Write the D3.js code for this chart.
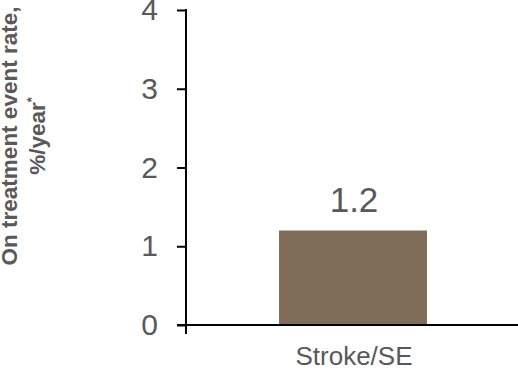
<!DOCTYPE html>
<html>
<head>
<meta charset="utf-8">
<script src="https://cdn.jsdelivr.net/npm/d3@7"></script>
<style>
  html, body { margin: 0; padding: 0; background: #fff; }
  svg { display: block; font-family: "Liberation Sans", Arial, sans-serif; }
</style>
</head>
<body>
<svg id="chart" width="518" height="369"></svg>
<script>
// Event rate data
const categories = ["Stroke/SE"];
const values = [1.2];
const valueLabels = ["1.2"];
const yTicks = [0, 1, 2, 3, 4];

const svg = d3.select("#chart");
const axisColor = "#000";
const textColor = "#595959";
const barColor = "#7f6d5a";

const y = d3.scaleLinear().domain([0, 4]).range([325, 10]);
const x = d3.scaleBand().domain(categories).range([186, 520]).padding(0.386);

// Bars
svg.selectAll("rect.bar")
  .data(values)
  .enter().append("rect")
  .attr("class", "bar")
  .attr("x", (d, i) => x(categories[i]))
  .attr("width", x.bandwidth())
  .attr("y", d => y(d))
  .attr("height", d => y(0) - y(d))
  .attr("fill", barColor);

// Value labels
svg.selectAll("text.val")
  .data(values)
  .enter().append("text")
  .attr("class", "val")
  .attr("x", (d, i) => x(categories[i]) + x.bandwidth() / 2 + 1)
  .attr("y", d => y(d) - 19)
  .attr("text-anchor", "middle")
  .attr("font-size", 35)
  .attr("fill", textColor)
  .text((d, i) => valueLabels[i]);

// Y axis
const yAxis = d3.axisLeft(y).tickValues(yTicks).tickSize(9).tickSizeOuter(0).tickPadding(19)
  .tickFormat(d3.format("d"));
const gy = svg.append("g").attr("transform", "translate(186,0)").call(yAxis);
gy.select(".domain").remove();
gy.selectAll(".tick line").attr("stroke", axisColor).attr("stroke-width", 2);
gy.selectAll(".tick text").attr("fill", textColor).attr("font-size", 30)
  .attr("font-family", "'Liberation Sans', Arial, sans-serif");
gy.append("line").attr("x1", 0).attr("x2", 0).attr("y1", y(4) - 1).attr("y2", y(0) + 9)
  .attr("stroke", axisColor).attr("stroke-width", 2);

// X axis baseline and category labels
svg.append("line").attr("x1", 177).attr("x2", 518).attr("y1", y(0)).attr("y2", y(0))
  .attr("stroke", axisColor).attr("stroke-width", 2);
svg.selectAll("text.cat")
  .data(categories)
  .enter().append("text")
  .attr("class", "cat")
  .attr("x", d => x(d) + x.bandwidth() / 2 + 1)
  .attr("y", 365)
  .attr("text-anchor", "middle")
  .attr("font-size", 26)
  .attr("fill", textColor)
  .text(d => d);

// Y axis title
const title = svg.append("text")
  .attr("transform", "translate(17,136) rotate(-90)")
  .attr("text-anchor", "middle")
  .attr("font-size", 22.5)
  .attr("font-weight", "bold")
  .attr("fill", textColor);
title.append("tspan").attr("x", 0).attr("y", 0).text("On treatment event rate,");
title.append("tspan").attr("x", 0).attr("y", 28).text("%/year");
title.append("tspan").attr("dy", -9).attr("font-size", 13).text("*");
</script>
</body>
</html>
